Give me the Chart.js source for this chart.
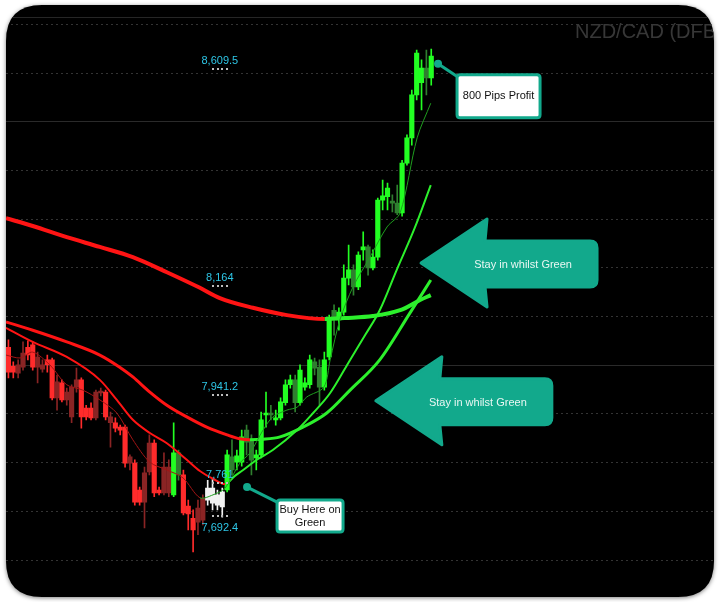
<!DOCTYPE html>
<html lang="en">
<head>
<meta charset="UTF-8">
<title>NZD/CAD (DFB)</title>
<style>
  html, body { margin: 0; padding: 0; background: #fff; }
  #wrap { width: 720px; height: 602px; }
</style>
</head>
<body>
<div id="wrap"><canvas id="chart" width="720" height="602"></canvas></div>
<script src="https://cdn.jsdelivr.net/npm/chart.js"></script>
<script>
// candles, left to right (price in pips-style quote)
const opens = [
  8037, 7998, 7984, 7996, 8037, 8042, 7996, 7992, 8011, 8011, 7933, 7964, 7929, 7894, 7955, 7970,
  7912, 7912, 7892, 7943, 7945, 7882, 7882, 7873, 7873, 7799, 7799, 7744, 7719, 7781, 7840, 7744,
  7738, 7738, 7734, 7820, 7775, 7711, 7686, 7678, 7682, 7723, 7748, 7713, 7709, 7744, 7812, 7801,
  7801, 7867, 7847, 7810, 7816, 7898, 7902, 7888, 7892, 7923, 7960, 7970, 7923, 7955, 7960, 8007,
  7996, 7955, 8017, 8113, 8093, 8109, 8179, 8196, 8161, 8237, 8243, 8200, 8222, 8339, 8346, 8337,
  8333, 8313, 8415, 8467, 8555, 8580, 8610, 8590
];
const highs = [
  8052, 8007, 8011, 8048, 8050, 8048, 8027, 8011, 8021, 8015, 7980, 7970, 7953, 7960, 7994, 7974,
  7918, 7923, 7949, 7953, 7949, 7904, 7892, 7877, 7877, 7816, 7806, 7750, 7791, 7857, 7847, 7750,
  7820, 7806, 7882, 7826, 7785, 7723, 7703, 7723, 7734, 7764, 7768, 7744, 7748, 7826, 7847, 7826,
  7867, 7877, 7857, 7826, 7904, 7945, 7918, 7908, 7933, 7970, 7980, 7980, 8001, 7974, 8021, 8015,
  8011, 8027, 8103, 8124, 8118, 8206, 8247, 8206, 8233, 8274, 8247, 8237, 8343, 8380, 8374, 8350,
  8370, 8421, 8473, 8565, 8647, 8627, 8647, 8649
];
const lows = [
  7974, 7974, 7974, 7990, 8011, 7990, 7964, 7986, 7986, 7929, 7908, 7925, 7918, 7882, 7945, 7871,
  7888, 7888, 7888, 7937, 7888, 7832, 7863, 7857, 7791, 7785, 7713, 7713, 7666, 7775, 7730, 7734,
  7734, 7730, 7730, 7764, 7693, 7662, 7617, 7652, 7672, 7713, 7703, 7703, 7688, 7740, 7775, 7785,
  7793, 7816, 7775, 7785, 7810, 7873, 7888, 7877, 7888, 7918, 7953, 7904, 7918, 7949, 7953, 7980,
  7918, 7949, 8011, 8062, 8072, 8103, 8165, 8144, 8155, 8216, 8185, 8196, 8216, 8319, 8319, 8315,
  8309, 8306, 8411, 8452, 8545, 8524, 8555, 8575
];
const closes = [
  7986, 7986, 8001, 8025, 8021, 7996, 8017, 8001, 8001, 7933, 7966, 7929, 7945, 7955, 7970, 7894,
  7894, 7892, 7945, 7947, 7894, 7894, 7871, 7867, 7799, 7812, 7719, 7719, 7779, 7840, 7738, 7738,
  7791, 7791, 7820, 7775, 7697, 7695, 7662, 7707, 7727, 7748, 7717, 7734, 7740, 7816, 7785, 7814,
  7853, 7842, 7805, 7816, 7888, 7902, 7898, 7892, 7925, 7960, 7970, 7923, 7990, 7964, 8011, 7994,
  7955, 8011, 8093, 8093, 8109, 8179, 8196, 8161, 8226, 8243, 8200, 8222, 8339, 8348, 8364, 8333,
  8313, 8415, 8467, 8555, 8641, 8610, 8590, 8635
];
// trend state of each candle: d = down (red), f = flat (white), u = up (green)
const trend = [
  'd','d','d','d','d','d','d','d','d','d','d','d','d','d','d','d',
  'd','d','d','d','d','d','d','d','d','d','d','d','d','d','d','d',
  'd','d','u','u','d','d','d','d','d','f','f','f','f','u','u','u',
  'u','u','u','u','u','u','u','u','u','u','u','u','u','u','u','u',
  'u','u','u','u','u','u','u','u','u','u','u','u','u','u','u','u',
  'u','u','u','u','u','u','u','u'
];

// moving averages: [candle position, price]
const maSlow = [
  [-0.5, 8302], [5.0, 8286], [12.0, 8263], [18.8, 8243], [25.6, 8222], [32.6, 8191],
  [39.4, 8159], [43.5, 8138], [50.3, 8118], [57.3, 8103], [65.1, 8095], [69.2, 8097],
  [75.0, 8101], [80.6, 8113], [84.7, 8134], [86.9, 8144]
];
const maMid = [
  [-0.5, 8089], [5.0, 8072], [12.0, 8048], [18.8, 8021], [22.9, 7996], [25.6, 7976],
  [29.1, 7945], [32.6, 7918], [36.7, 7894], [40.8, 7873], [45.0, 7857], [47.6, 7849],
  [49.7, 7847], [52.4, 7848], [55.9, 7853], [60.6, 7873], [65.5, 7902], [70.3, 7949],
  [76.4, 8011], [82.6, 8107], [86.9, 8175]
];
const maQuick = [
  [-0.5, 8077], [5.0, 8048], [12.0, 8017], [18.8, 7970], [22.3, 7929], [25.6, 7888],
  [29.1, 7861], [32.6, 7840], [36.7, 7806], [39.4, 7783], [42.1, 7767], [44.6, 7756],
  [46.6, 7773], [48.3, 7785], [51.1, 7806], [54.4, 7826], [59.4, 7867], [62.7, 7902],
  [66.2, 7943], [70.3, 8011], [73.4, 8062], [76.4, 8113], [79.9, 8196], [83.6, 8282],
  [86.9, 8370]
];
const maFast = [
  [-0.5, 8021], [2.4, 8015], [5.0, 8027], [8.5, 8001], [12.0, 7960], [15.3, 7949],
  [18.8, 7929], [22.3, 7902], [25.6, 7847], [29.1, 7801], [32.6, 7785], [35.9, 7769],
  [39.4, 7728], [42.1, 7734], [44.6, 7748], [47.6, 7799], [49.7, 7820], [52.4, 7867],
  [54.4, 7894], [57.3, 7908], [59.4, 7914], [61.4, 7935], [64.9, 7955], [66.2, 8011],
  [68.2, 8093], [70.9, 8161], [74.4, 8222], [77.9, 8284], [80.6, 8313], [84.1, 8467],
  [86.9, 8538]
];

// price tags printed on the chart
const priceMarks = [8609.5, 8164, 7941.2, 7761, 7692.4];
const markSide = ['above', 'above', 'above', 'above', 'below'];
const markSlot = 43.5;

const title = 'NZD/CAD (DFB)';

// notes: anchors in [candle position, price]
const callouts = [
  { at: [88.4, 8619], box: [19, 11, 83, 43], lines: ['800 Pips Profit'] },
  { at: [49.1, 7750], box: [30, 13, 66, 32], lines: ['Buy Here on', 'Green'] }
];
const arrows = [
  { tip: [84.9, 8210], text: 'Stay in whilst Green' },
  { tip: [75.6, 7927], text: 'Stay in whilst Green' }
];

const FONT = '"Liberation Sans", Arial, sans-serif';
const TEAL = '#12a98c';
const RED = '#ff1414';
const GREEN = '#2cf02c';

function candleColor(i) {
  const up = closes[i] >= opens[i];
  if (trend[i] === 'f') return '#f2f2f2';
  if (trend[i] === 'u') return up ? '#22ff22' : '#2f7f2f';
  return up ? '#8a2424' : '#ff2b2b';
}

function roundRectPath(c, x, y, w, h, r) {
  c.beginPath();
  c.moveTo(x + r, y);
  c.lineTo(x + w - r, y);
  c.quadraticCurveTo(x + w, y, x + w, y + r);
  c.lineTo(x + w, y + h - r);
  c.quadraticCurveTo(x + w, y + h, x + w - r, y + h);
  c.lineTo(x + r, y + h);
  c.quadraticCurveTo(x, y + h, x, y + h - r);
  c.lineTo(x, y + r);
  c.quadraticCurveTo(x, y, x + r, y);
  c.closePath();
}

function drawNotes(chart) {
  const c = chart.ctx, xs = chart.scales.x, ys = chart.scales.y;

  c.font = '20px ' + FONT;
  c.fillStyle = '#373737';
  c.textAlign = 'left';
  c.textBaseline = 'alphabetic';
  c.fillText(title, 575, 38);

  // level tags
  c.font = '11px ' + FONT;
  c.textAlign = 'center';
  c.textBaseline = 'middle';
  priceMarks.forEach((v, k) => {
    const x = xs.getPixelForValue(markSlot);
    const y = ys.getPixelForValue(v);
    c.fillStyle = '#bdbdbd';
    for (let d = -1.5; d <= 1.5; d++) {
      c.fillRect(Math.round(x + d * 4.5) - 1, Math.round(y), 2, 2);
    }
    c.fillStyle = '#2ec6e6';
    c.fillText(v.toLocaleString('en-US'), x, markSide[k] === 'above' ? y - 7 : y + 13);
  });

  // big arrows
  arrows.forEach(a => {
    const tx = xs.getPixelForValue(a.tip[0]);
    const ty = ys.getPixelForValue(a.tip[1]);
    const hl = 66, hh = 44, sh = 23, len = 176, r = 7, cy = ty + 1;
    c.beginPath();
    c.moveTo(tx, ty);
    c.lineTo(tx + hl, ty - hh);
    c.lineTo(tx + hl - 2, cy - sh);
    c.lineTo(tx + len - r, cy - sh);
    c.quadraticCurveTo(tx + len, cy - sh, tx + len, cy - sh + r);
    c.lineTo(tx + len, cy + sh - r);
    c.quadraticCurveTo(tx + len, cy + sh, tx + len - r, cy + sh);
    c.lineTo(tx + hl - 2, cy + sh);
    c.lineTo(tx + hl, ty + hh);
    c.closePath();
    c.fillStyle = TEAL;
    c.strokeStyle = TEAL;
    c.lineJoin = 'round';
    c.lineWidth = 3;
    c.fill();
    c.stroke();
    c.fillStyle = '#e9f7f3';
    c.font = '11px ' + FONT;
    c.fillText(a.text, tx + 102, cy + 1);
  });

  // callout boxes
  callouts.forEach(o => {
    const px = xs.getPixelForValue(o.at[0]);
    const py = ys.getPixelForValue(o.at[1]);
    const [bx, by, bw, bh] = o.box;
    c.strokeStyle = TEAL;
    c.lineWidth = 3;
    c.beginPath();
    c.moveTo(px, py);
    c.lineTo(px + bx + 2, py + by + 3);
    c.stroke();
    c.fillStyle = TEAL;
    c.beginPath();
    c.arc(px, py, 4, 0, Math.PI * 2);
    c.fill();
    roundRectPath(c, px + bx, py + by, bw, bh, 3);
    c.fillStyle = '#ffffff';
    c.fill();
    c.stroke();
    c.fillStyle = '#111111';
    c.font = '11px ' + FONT;
    const mid = py + by + bh / 2;
    o.lines.forEach((t, k) => {
      c.fillText(t, px + bx + bw / 2, mid + (k - (o.lines.length - 1) / 2) * 13);
    });
  });
}

const framePlugin = {
  id: 'frame',
  beforeDraw(chart) {
    const c = chart.ctx;
    c.save();
    c.fillStyle = '#ffffff';
    c.fillRect(0, 0, chart.width, chart.height);
    c.shadowColor = 'rgba(0,0,0,0.5)';
    c.shadowBlur = 4;
    c.shadowOffsetY = 1;
    roundRectPath(c, 6, 5, 708, 592, 36);
    c.fillStyle = '#000000';
    c.fill();
    c.restore();
    c.save();
    roundRectPath(c, 6, 5, 708, 592, 36);
    c.clip();
    c.strokeStyle = '#262626';
    c.lineWidth = 1;
    c.beginPath();
    c.moveTo(6, 17.5);
    c.lineTo(714, 17.5);
    c.stroke();
  },
  afterDraw(chart) {
    drawNotes(chart);
    chart.ctx.restore();
  }
};

const idx = opens.map((_, i) => i);
const toPts = arr => arr.map(p => ({ x: p[0], y: p[1] }));
const slopeColor = ctx => (ctx.p1.parsed.y < ctx.p0.parsed.y ? RED : GREEN);

const isHundred = v => Math.abs(v / 100 - Math.round(v / 100)) < 1e-6;

new Chart(document.getElementById('chart'), {
  type: 'bar',
  data: {
    datasets: [
      {
        type: 'line', data: toPts(maFast), borderWidth: 1, pointRadius: 0, tension: 0.3,
        borderColor: '#a31515',
        segment: {
          borderColor: ctx => {
            const k = Math.min(trend.length - 1, Math.max(0, Math.round(ctx.p1.parsed.x)));
            return trend[k] === 'd' ? '#a31515' : '#1e9e1e';
          }
        }
      },
      {
        type: 'line', data: toPts(maQuick), borderWidth: 2, pointRadius: 0,
        cubicInterpolationMode: 'monotone', borderColor: RED, segment: { borderColor: slopeColor }
      },
      {
        type: 'line', data: toPts(maMid), borderWidth: 3, pointRadius: 0,
        cubicInterpolationMode: 'monotone', borderColor: RED, segment: { borderColor: slopeColor }
      },
      {
        type: 'line', data: toPts(maSlow), borderWidth: 4, pointRadius: 0,
        cubicInterpolationMode: 'monotone', borderColor: RED, segment: { borderColor: slopeColor }
      },
      {
        data: idx.map(i => ({ x: i, y: [opens[i], closes[i]] })),
        barThickness: 4.5, minBarLength: 1, grouped: false, borderWidth: 0,
        backgroundColor: ctx => (ctx.dataIndex === undefined ? 'transparent' : candleColor(ctx.dataIndex))
      },
      {
        data: idx.map(i => ({ x: i, y: [lows[i], highs[i]] })),
        barThickness: 1, grouped: false, borderWidth: 0,
        backgroundColor: ctx => (ctx.dataIndex === undefined ? 'transparent' : candleColor(ctx.dataIndex))
      }
    ]
  },
  options: {
    responsive: false,
    animation: false,
    events: [],
    layout: { padding: { left: 6, right: 6, top: 6, bottom: 6 } },
    plugins: { legend: { display: false }, tooltip: { enabled: false } },
    scales: {
      x: { type: 'linear', min: -0.5, max: 145.18, offset: false, display: false },
      y: {
        min: 7526.3,
        max: 8737.6,
        ticks: { display: false, stepSize: 100 },
        grid: {
          drawTicks: false,
          lineWidth: 1,
          color: ctx => {
            const v = ctx.tick ? ctx.tick.value : 0;
            if (!isHundred(v)) return 'rgba(0,0,0,0)';
            return isHundred(v / 5) ? '#2a2a2a' : '#333333';
          }
        },
        border: {
          display: false,
          dash: ctx => (ctx.tick && isHundred(ctx.tick.value / 5) ? [] : [2, 3])
        }
      }
    }
  },
  plugins: [framePlugin]
});
</script>
</body>
</html>
